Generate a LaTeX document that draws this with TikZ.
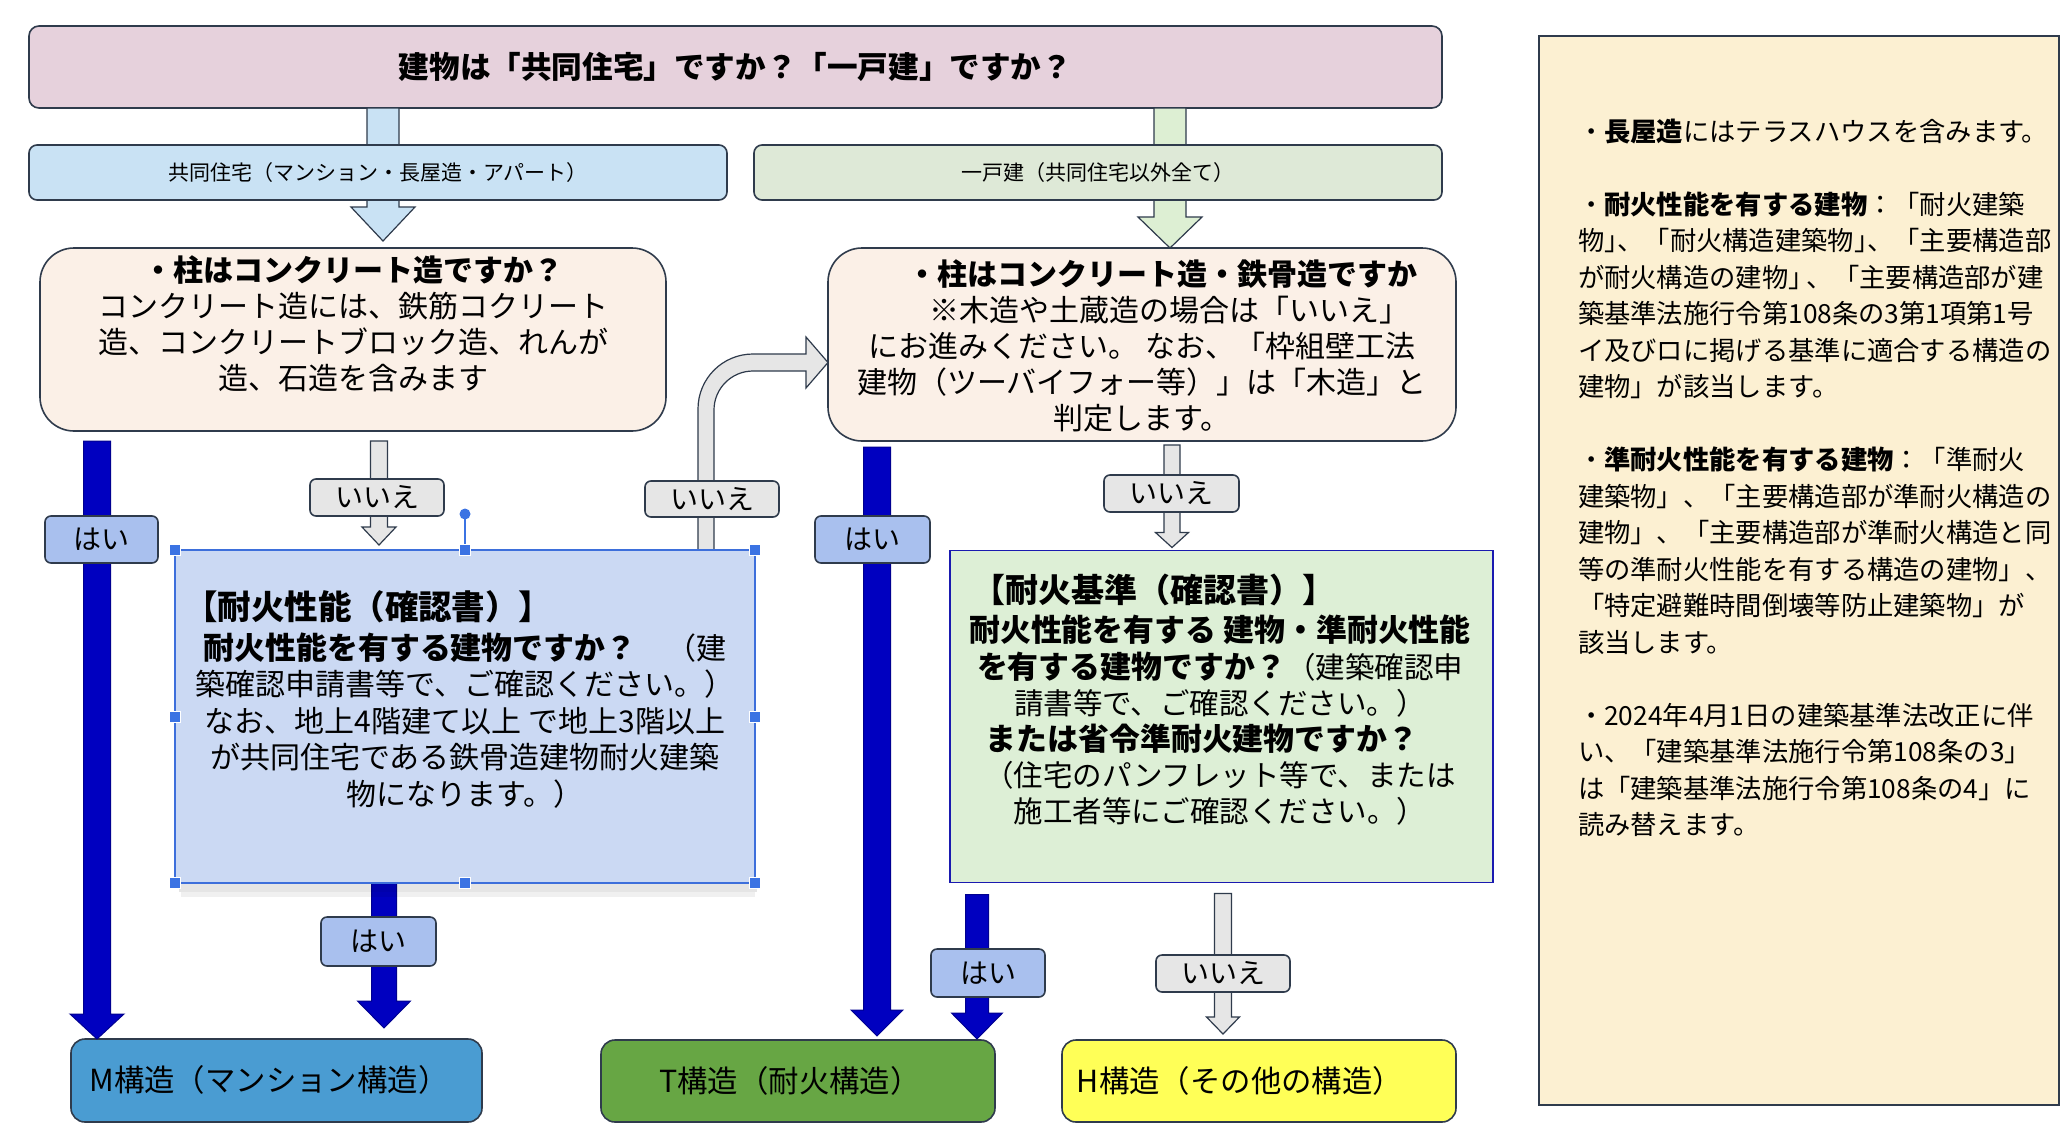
\documentclass[tikz,border=0pt]{standalone}
\usepackage{fontspec}
\setmainfont{Noto Sans CJK JP}
\usetikzlibrary{calc}
\definecolor{edge}{HTML}{2F3B4C}
\definecolor{topc}{HTML}{E6D1DC}
\definecolor{subLc}{HTML}{C9E2F4}
\definecolor{subRc}{HTML}{DEE9D7}
\definecolor{arrRc}{HTML}{DDEFD3}
\definecolor{qc}{HTML}{FBF0E7}
\definecolor{noc}{HTML}{E6E6E6}
\definecolor{yesc}{HTML}{A9C0EE}
\definecolor{dblue}{HTML}{0000C0}
\definecolor{fpc}{HTML}{CBD9F3}
\definecolor{fpedge}{HTML}{3D6FDB}
\definecolor{fbc}{HTML}{DDEFD6}
\definecolor{fbedge}{HTML}{1A1AB0}
\definecolor{Mc}{HTML}{4A9CD2}
\definecolor{Tc}{HTML}{67A644}
\definecolor{Hc}{HTML}{FFFF57}
\definecolor{notec}{HTML}{FCF0D2}
\definecolor{selc}{HTML}{3B73E3}
\newcommand\fsz[2]{\fontsize{#1}{#2}\selectfont}
\newcommand\bfw[1]{{\bfseries\fsz{15.45pt}{18.1pt}#1}}
% vertical block arrow: #1 style, #2 column, #3 from anchor, #4 start gap, #5 to anchor, #6 end gap, #7 shaft half, #8 head half, #9 head length
\newcommand\varrow[9]{%
  \path[#1]
    ($(#2|-#3)+(-#7,#4)$) --
    ($(#2|-#5)+(-#7,-#6-#9)$) --
    ($(#2|-#5)+(-#8,-#6-#9)$) --
    ($(#2|-#5)+(0,-#6)$) --
    ($(#2|-#5)+(#8,-#6-#9)$) --
    ($(#2|-#5)+(#7,-#6-#9)$) --
    ($(#2|-#3)+(#7,#4)$) -- cycle;}
\begin{document}
\begin{tikzpicture}[x=0.5pt,y=-0.5pt,
  sz/.style 2 args={minimum width=#1*0.5pt, minimum height=#2*0.5pt},
  base/.style={inner sep=0pt, outer sep=0pt, line width=0.8pt, draw=edge},
  ylabel/.style={base, fill=yesc, rounded corners=3pt, font=\fsz{14pt}{16pt}},
  nlabel/.style={base, fill=noc, rounded corners=3pt, font=\fsz{14pt}{16pt}},
  txt/.style={inner sep=0pt, outer sep=0pt},
  palearrow/.style={fill=noc, draw=edge, line width=0.6pt},
  bluearrow/.style={fill=dblue, draw=dblue!75!black, line width=0.5pt},
  handle/.style={fill=selc, draw=white, line width=0.3pt, inner sep=0pt, minimum size=5.5pt, outer sep=0pt}
]
\useasboundingbox (0,0) rectangle (2068,1142);
\fill[white] (0,0) rectangle (2068,1142);

% column coordinates
\coordinate (cA) at (383,0);
\coordinate (cB) at (1170,0);
\coordinate (cYes1) at (97,0);
\coordinate (cNo1) at (379,0);
\coordinate (cYes2) at (877,0);
\coordinate (cNo2) at (1172,0);
\coordinate (cYes3) at (384,0);
\coordinate (cYes4) at (977,0);
\coordinate (cNo4) at (1223,0);

% boxes (shapes)
\node[base, fill=topc, rounded corners=5pt, sz={1413}{82}, font=\bfseries\fsz{15.3pt}{18pt}] (top) at (735.5,67) {建物は「共同住宅」ですか？「一戸建」ですか？};
\node[base, fill=qc, rounded corners=17pt, sz={626}{183}] (qL) at (353,339.5) {};
\node[base, fill=qc, rounded corners=17pt, sz={628}{193}] (qR) at (1142,344.5) {};
\node[inner sep=0pt, outer sep=0pt, sz={580}{333}] (fpref) at (465,716.5) {};
\node[base, fill=Mc, rounded corners=7pt, sz={411}{83}] (M) at (276.5,1080.5) {};
\node[base, fill=Tc, rounded corners=7pt, sz={394}{82}] (T) at (798,1081) {};
\node[base, fill=Hc, rounded corners=7pt, sz={394}{82}] (H) at (1259,1081) {};
\node[inner sep=0pt, outer sep=0pt, sz={543}{332}] (fbref) at (1221.5,716.5) {};

% arrows from top box (behind the sub-boxes)
\varrow{fill=subLc, draw=edge, line width=0.6pt}{cA}{top.south}{0}{qL.north}{7}{16}{32}{34}
\varrow{fill=arrRc, draw=edge, line width=0.6pt}{cB}{top.south}{0}{qR.north}{0}{16}{32}{31}

\node[base, fill=subLc, rounded corners=4pt, sz={698}{55}, font=\fsz{10.5pt}{12pt}] (subL) at (378,172.5) {共同住宅（マンション・長屋造・アパート）};
\node[base, fill=subRc, rounded corners=4pt, sz={688}{55}, font=\fsz{10.5pt}{12pt}] (subR) at (1098,172.5) {一戸建（共同住宅以外全て）};

% decision arrows
\varrow{bluearrow}{cYes1}{qL.south}{10}{M.north}{0}{13.5}{27}{25}
\varrow{palearrow}{cNo1}{qL.south}{10}{fpref.north}{5}{8.5}{17}{18}
\varrow{bluearrow}{cYes2}{qR.south}{6}{T.north}{4}{13.5}{26}{26}
\varrow{palearrow}{cNo2}{qR.south}{4}{fbref.north}{3}{8}{16.5}{15}
\varrow{bluearrow}{cYes3}{fpref.south}{0}{M.north}{11}{12.5}{26.5}{27}
\varrow{bluearrow}{cYes4}{fbref.south}{12}{T.north}{1}{11.5}{25.5}{26}
\varrow{palearrow}{cNo4}{fbref.south}{11}{H.north}{6}{8.5}{16.5}{17}

% curved "no" arrow from fp box to right question box
\coordinate (cvS) at ($(fpref.north)+(241,0)$);
\coordinate (cvE) at ($(qR.west)+(0,18)$);
\coordinate (cvK) at (cvS|-cvE);
\path[palearrow]
  ($(cvS)+(-8,0)$) -- ($(cvK)+(-8,46.5)$)
  .. controls ($(cvK)+(-8,16)$) and ($(cvK)+(16.6,-8.5)$) .. ($(cvK)+(47,-8.5)$)
  -- ($(cvE)+(-22,-8.5)$) -- ($(cvE)+(-22,-25.5)$) -- (cvE)
  -- ($(cvE)+(-22,25.5)$) -- ($(cvE)+(-22,8.5)$) -- ($(cvK)+(47,8.5)$)
  .. controls ($(cvK)+(25.5,8.5)$) and ($(cvK)+(8,26)$) .. ($(cvK)+(8,47.5)$)
  -- ($(cvS)+(8,0)$) -- cycle;

% fp box (blue, selected) with soft shadow
\fill[black, opacity=0.10] ($(fpref.south west)+(4,0)$) rectangle ($(fpref.south east)+(2,9)$);
\fill[black, opacity=0.06] ($(fpref.south west)+(6,9)$) rectangle ($(fpref.south east)+(0,14)$);
\node[draw=fpedge, line width=1.3pt, fill=fpc, inner sep=0pt, outer sep=0pt, sz={580}{333}] (fp) at (fpref) {};
\node[draw=fbedge, line width=0.9pt, fill=fbc, inner sep=0pt, outer sep=0pt, sz={543}{332}] (fb) at (fbref) {};

% labels
\node[ylabel, sz={113}{47}] (y1) at (101.5,539.5) {はい};
\node[nlabel, sz={134}{37}] (n1) at (377,497.5) {いいえ};
\node[nlabel, sz={134}{36}] (n2) at (712,499) {いいえ};
\node[ylabel, sz={115}{47}] (y2) at (872.5,539.5) {はい};
\node[nlabel, sz={135}{37}] (n3) at (1171.5,493.5) {いいえ};
\node[ylabel, sz={115}{49}] (y3) at (378.5,941.5) {はい};
\node[ylabel, sz={114}{48}] (y4) at (988,973) {はい};
\node[nlabel, sz={134}{37}] (n4) at (1223,973.5) {いいえ};

% selection handles on fp box
\draw[selc, line width=0.8pt] (fp.north) -- ($(fp.north)+(0,-32)$);
\node[circle, fill=selc, inner sep=0pt, minimum size=5.5pt] (rot) at ($(fp.north)+(0,-36)$) {};
\foreach \a [count=\i] in {north west,north,north east,west,east,south west,south,south east}
  \node[handle] (h\i) at (fp.\a) {};

% texts
\node[txt, align=center, font=\fsz{15pt}{18pt}] (qLt) at (353,323.5) {\textbf{・柱はコンクリート造ですか？}\\
コンクリート造には、鉄筋コクリート\\
造、コンクリートブロック造、れんが\\
造、石造を含みます};

\node[txt, align=center, font=\fsz{15pt}{18pt}] (qRt) at (1142,345.5) {\hspace*{20pt}\textbf{・柱はコンクリート造・鉄骨造ですか}\\
\hspace*{27pt}※木造や土蔵造の場合は「いいえ」\\
にお進みください。 なお、「枠組壁工法\\
建物（ツーバイフォー等）」は「木造」と\\
判定します。};

\node[txt, anchor=west, font=\bfseries\fsz{16.75pt}{18pt}] (fpH) at (184,607) {【耐火性能（確認書）】};
\node[txt, align=center, font=\fsz{15pt}{18.2pt}] (fpt) at (465,720.5) {\bfw{耐火性能を有する建物ですか？}　（建\\
築確認申請書等で、ご確認ください。）\\
なお、地上4階建て以上 で地上3階以上\\
が共同住宅である鉄骨造建物耐火建築\\
物になります。）};

\node[txt, anchor=west, font=\bfseries\fsz{16.5pt}{18pt}] (fbH) at (972,590) {【耐火基準（確認書）】};
\node[txt, align=center, font=\fsz{14.75pt}{18.1pt}] (fbt) at (1220,720.5) {\bfw{耐火性能を有する 建物・準耐火性能}\\
\bfw{を有する建物ですか？}（建築確認申\\
請書等で、ご確認ください。）\\
\bfw{または省令準耐火建物ですか？}\hspace*{18pt}\mbox{}\\
（住宅のパンフレット等で、または\\
施工者等にご確認ください。）};

\node[txt, font=\fsz{15.2pt}{17pt}] (Mt) at (269,1080) {M構造（マンション構造）};
\node[txt, font=\fsz{15.2pt}{17pt}] (Tt) at (790,1081) {T構造（耐火構造）};
\node[txt, font=\fsz{15.2pt}{17pt}] (Ht) at (1240,1081) {H構造（その他の構造）};

% notes box
\node[base, line width=0.7pt, fill=notec, sz={520}{1069}] (notes) at (1799,570.5) {};
\node[txt, anchor=west, align=left, font=\fsz{13.15pt}{18.25pt}] (notesT) at (1578,477.75) {%
・\textbf{長屋造}にはテラスハウスを含みます。\\[18.25pt]%
・\textbf{耐火性能を有する建物}：「耐火建築\\%
物」\kern-0.5em、「耐火構造建築物」\kern-0.5em、「主要構造部\\%
が耐火構造の建物」\kern-0.3em、「主要構造部が建\\%
築基準法施行令第108条の3第1項第1号\\%
イ及びロに掲げる基準に適合する構造の\\%
建物」が該当します。\\[18.25pt]%
・\textbf{準耐火性能を有する建物}：「準耐火\\%
建築物」、「主要構造部が準耐火構造の\\%
建物」、「主要構造部が準耐火構造と同\\%
等の準耐火性能を有する構造の建物」、\\%
「特定避難時間倒壊等防止建築物」が\\%
該当します。\\[18.25pt]%
・2024年4月1日の建築基準法改正に伴\\%
い、「建築基準法施行令第108条の3」\\%
は「建築基準法施行令第108条の4」に\\%
読み替えます。};
\end{tikzpicture}
\end{document}
